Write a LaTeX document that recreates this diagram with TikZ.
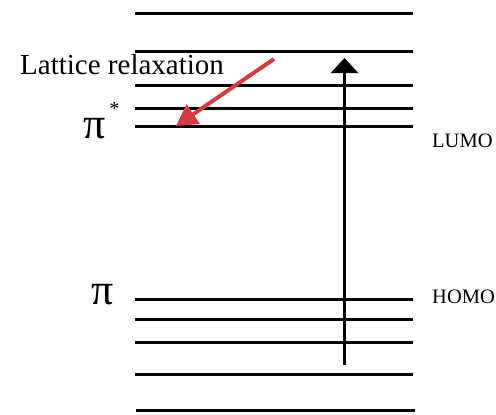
\documentclass[tikz,border=0pt]{standalone}
\usepackage{fontspec}
\setmainfont{Liberation Serif}
\usetikzlibrary{arrows.meta}
\definecolor{relaxred}{RGB}{214,58,67}
\tikzset{
  level/.style={line width=3pt, black},
  excite/.style={line width=3pt, black, -{Triangle[width=27pt,length=15pt]}},
  relax/.style={line width=4pt, relaxred, -{Triangle[width=23pt,length=21pt]}},
  lbl/.style={inner sep=0pt, anchor=base west},
}
\begin{document}
\begin{tikzpicture}[x=1pt,y=-1pt]
\useasboundingbox (0,0) rectangle (496,415);
% energy levels
\foreach \yy in {13,51,85,108,126.5,299,319.5,342.5,374} {
  \draw[level] (135,\yy) -- (413,\yy);
}
\draw[level] (136,410.5) -- (415,410.5);
% labels
\node[lbl, font=\fontsize{29}{30}\selectfont] (lr) at (20,74) {Lattice relaxation};
\node[inner sep=0pt, anchor=base west, font=\fontsize{44}{44}\selectfont] (pistar) at (83,138) {π\hspace{4pt}\raisebox{0.52em}{\fontsize{20}{20}\selectfont *}};
\node[inner sep=0pt, anchor=base, font=\fontsize{44}{44}\selectfont] (pi) at (103,304) {π};
\node[lbl, font=\fontsize{20.5}{21}\selectfont] (lumo) at (432,147) {LUMO};
\node[lbl, font=\fontsize{20.5}{21}\selectfont] (homo) at (432,303) {HOMO};
% arrows
\coordinate (exA) at (344.5,365);
\coordinate (exB) at (344.5,58);
\draw[excite] (exA) -- (exB);
\coordinate (rlA) at (274,59);
\coordinate (rlB) at (176,126);
\draw[relax] (rlA) -- (rlB);
\end{tikzpicture}
\end{document}
